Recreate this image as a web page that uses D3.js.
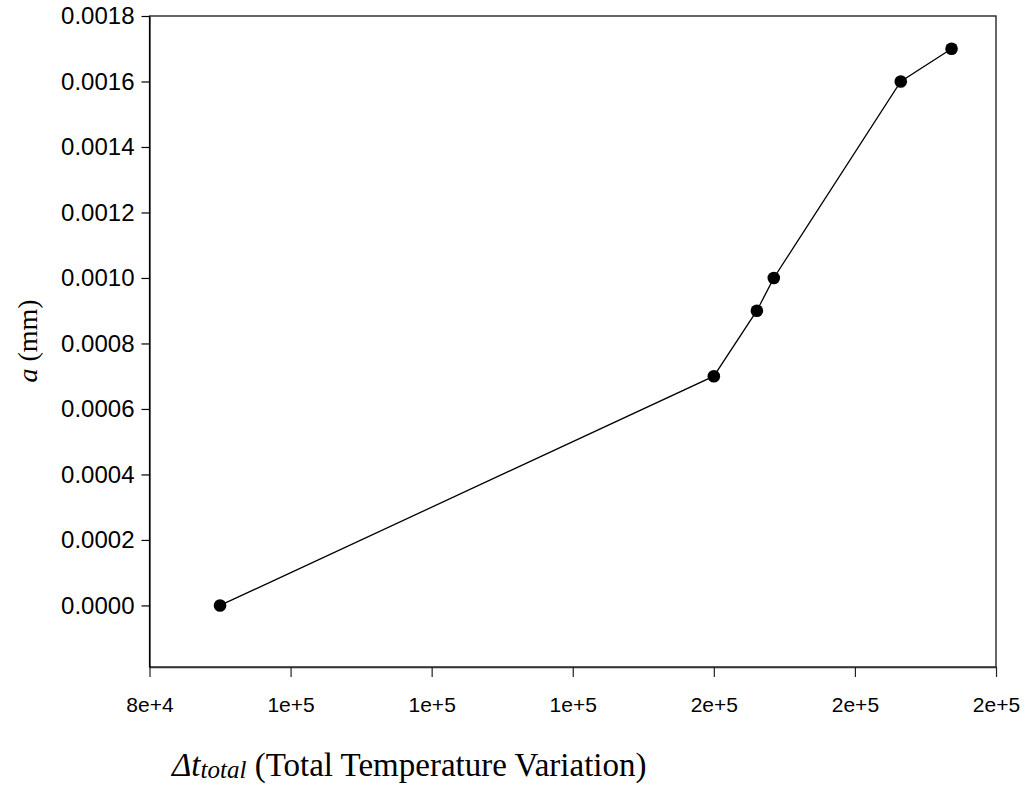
<!DOCTYPE html>
<html><head><meta charset="utf-8">
<script src="https://cdn.jsdelivr.net/npm/d3@7"></script>
<style>body{margin:0;background:#fff}</style>
</head><body>
<svg id="c" width="1026" height="788"></svg>
<script>
const xValues = [90000, 160000, 166100, 168500, 186500, 193700];
const yValues = [0.0000, 0.0007, 0.0009, 0.0010, 0.0016, 0.0017];
const xTicks = [80000, 100000, 120000, 140000, 160000, 180000, 200000];
const xTickLabels = ["8e+4", "1e+5", "1e+5", "1e+5", "2e+5", "2e+5", "2e+5"];
const yTicks = [0, 0.0002, 0.0004, 0.0006, 0.0008, 0.0010, 0.0012, 0.0014, 0.0016, 0.0018];
const yTickLabels = ["0.0000","0.0002","0.0004","0.0006","0.0008","0.0010","0.0012","0.0014","0.0016","0.0018"];

const svg = d3.select("#c");
const L = 149.5, R = 996, T = 16, B = 667;
const x = d3.scaleLinear().domain([80000, 200000]).range([L, R]);
const y = d3.scaleLinear().domain([-0.000188, 0.0018]).range([B, T]);

svg.append("rect").attr("x", L).attr("y", T).attr("width", R - L).attr("height", B - T)
  .attr("fill", "none").attr("stroke", "#000").attr("stroke-width", 1.2);

const xAxis = d3.axisBottom(x).tickValues(xTicks).tickSize(10).tickSizeOuter(0).tickPadding(20)
  .tickFormat((d, i) => xTickLabels[i]);
const gx = svg.append("g").attr("transform", `translate(0,${B})`).call(xAxis);
gx.select(".domain").attr("stroke", "#333").attr("stroke-width", 1.6);
gx.selectAll(".tick line").attr("stroke", "#222").attr("stroke-width", 1.2);
gx.selectAll("text").attr("font-family", "Liberation Sans, Arial, sans-serif").attr("font-size", 21).attr("fill", "#000");

const yAxis = d3.axisLeft(y).tickValues(yTicks).tickSize(8).tickSizeOuter(0).tickPadding(7)
  .tickFormat((d, i) => yTickLabels[i]);
const gy = svg.append("g").attr("transform", `translate(${L},0)`).call(yAxis);
gy.select(".domain").attr("stroke", "#000").attr("stroke-width", 1.2);
gy.selectAll(".tick line").attr("stroke", "#000").attr("stroke-width", 1.2);
gy.selectAll("text").attr("font-family", "Liberation Sans, Arial, sans-serif").attr("font-size", 24).attr("fill", "#000");

const data = xValues.map((v, i) => ({x: v, y: yValues[i]}));
svg.append("path").datum(data)
  .attr("d", d3.line().x(d => x(d.x)).y(d => y(d.y)))
  .attr("fill", "none").attr("stroke", "#000").attr("stroke-width", 1.3);
svg.selectAll("circle.pt").data(data).enter().append("circle")
  .attr("cx", d => x(d.x)).attr("cy", d => y(d.y)).attr("r", 6.3).attr("fill", "#000");

const yt = svg.append("text").attr("transform", "translate(37,341) rotate(-90)")
  .attr("text-anchor", "middle").attr("font-family", "Liberation Serif, Times New Roman, serif")
  .attr("font-size", 28).attr("fill", "#000");
yt.append("tspan").attr("font-style", "italic").text("a");
yt.append("tspan").text(" (mm)");

const xt = svg.append("text").attr("x", 172).attr("y", 776)
  .attr("font-family", "Liberation Serif, Times New Roman, serif").attr("font-size", 33).attr("fill", "#000");
xt.append("tspan").attr("font-style", "italic").text("Δt");
xt.append("tspan").attr("font-style", "italic").attr("font-size", 25).attr("dy", 2).text("total");
xt.append("tspan").attr("dy", -2).text(" (Total Temperature Variation)");
</script>
</body></html>
